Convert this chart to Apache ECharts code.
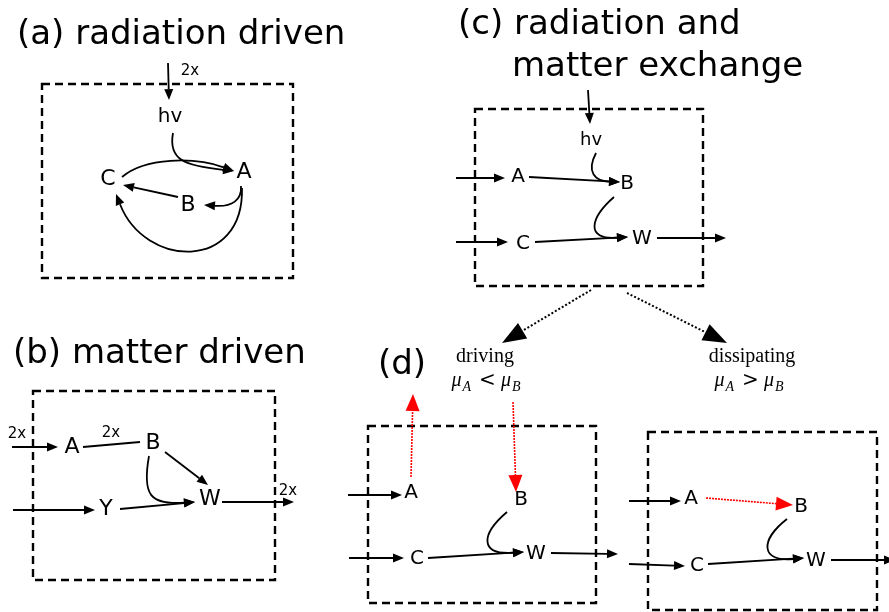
<!DOCTYPE html>
<html>
<head>
<meta charset="utf-8">
<script src="https://cdn.jsdelivr.net/npm/echarts@6/dist/echarts.min.js"></script>
<style>
html, body { margin: 0; padding: 0; background: #fff; }
#chart { width: 889px; height: 612px; }
</style>
</head>
<body>
<div id="chart"></div>
<script>
// canvas is mapped 1:1 onto a hidden value grid (x right, y down)
const W = 889, H = 612;

// dashed frames: x1, y1, x2, y2
const frames = [
  [42, 84, 293, 278],     // (a)
  [33, 391, 275, 580],    // (b)
  [475, 109, 703, 286],   // (c)
  [368, 426, 596, 603],   // (d) driving
  [648, 432, 877, 610]    // (d) dissipating
];

// straight black arrows: from x, y -> tip x, y
const arrows = [
  [168, 63, 169, 100], [178, 197, 123, 185],                                              // (a)
  [12, 447, 58, 447], [165, 452, 208, 485], [13, 510, 95, 510], [120, 509, 195, 502], [222, 502, 294, 502], // (b)
  [588, 90, 590, 124], [456, 178, 505, 178], [529, 177, 620, 182], [456, 242, 508, 242], [535, 242, 628, 237], [657, 238, 726, 238], // (c)
  [348, 495, 402, 495], [349, 558, 404, 558], [428, 558, 524, 552], [551, 553, 618, 554],   // (d) left
  [629, 501, 681, 501], [629, 564, 685, 566], [708, 564, 804, 558], [831, 560, 895, 560]    // (d) right
];

// plain segment without head (b) A - B
const plainLines = [
  [83, 447, 140, 442]
];

// curved black arrows: cubic bezier p0, c1, c2, tip
const curves = [
  [173, 133, 168, 160, 185, 166, 234, 171],   // (a) hv -> A
  [122, 177, 145, 157, 195, 157, 234, 171],   // (a) C -> A
  [241, 186, 242, 200, 232, 207, 204, 205],   // (a) A -> B
  [242, 188, 244, 272, 145, 268, 116, 194],   // (a) A -> C
  [149, 456, 142, 495, 150, 505, 195, 502],   // (b) B -> W
  [596, 153, 586, 172, 595, 181, 620, 182],   // (c) hv -> B
  [614, 197, 590, 218, 585, 240, 628, 237],   // (c) B -> W
  [507, 512, 480, 535, 480, 555, 524, 552],   // (d) B -> W
  [787, 519, 760, 540, 760, 562, 804, 558]    // (d) B -> W
];

// red dotted exchange arrows
const redArrows = [
  [411, 477, 413, 394],
  [513, 402, 516, 492],
  [706, 498, 793, 505]
];

// black dotted branch arrows out of (c)
const branchArrows = [
  [591, 290, 502, 343],
  [627, 293, 727, 343]
];

// text: x, y, string
const titles = [
  [17, 35, '(a) radiation driven'],
  [13, 354, '(b) matter driven'],
  [458, 25, '(c) radiation and'],
  [512, 67, 'matter exchange'],
  [378, 365, '(d)']
];
const nodesBig = [
  [244, 172, 'A'], [108, 179, 'C'], [188, 205, 'B'],
  [72, 447, 'A'], [153, 443, 'B'], [210, 499, 'W'], [106, 509, 'Y']
];
const nodesSmall = [
  [518, 177, 'A'], [627, 184, 'B'], [523, 244, 'C'], [642, 239, 'W'],
  [411, 493, 'A'], [521, 500, 'B'], [417, 559, 'C'], [536, 554, 'W'],
  [691, 499, 'A'], [801, 507, 'B'], [697, 566, 'C'], [816, 561, 'W']
];
const factors = [
  [190, 71, '2x'], [17, 434, '2x'], [111, 433, '2x'], [288, 491, '2x']
];
const photons = [
  [170, 117, 'hv', 20], [591, 140, 'hv', 18]
];
const modes = [
  [485, 357, 'driving'], [752, 357, 'dissipating']
];
const conditions = [
  [486, 381, '<'], [749, 381, '>']
];

function head(tip, from, len, half) {
  const dx = tip[0] - from[0], dy = tip[1] - from[1];
  const d = Math.sqrt(dx * dx + dy * dy) || 1;
  const ux = dx / d, uy = dy / d;
  const bx = tip[0] - ux * len, by = tip[1] - uy * len;
  return {
    base: [bx, by],
    pts: [tip, [bx - uy * half, by + ux * half], [bx + uy * half, by - ux * half]]
  };
}

function arrowSeries(rows, st) {
  return {
    type: 'custom',
    coordinateSystem: 'cartesian2d',
    silent: true,
    clip: false,
    encode: { x: 0, y: 1 },
    data: rows.map(r => [r[0], r[1]]),
    renderItem(params, api) {
      const row = rows[params.dataIndex];
      const p = [];
      for (let i = 0; i < row.length; i += 2) p.push(api.coord([row[i], row[i + 1]]));
      const tip = p[p.length - 1];
      const children = [];
      let end = tip;
      if (st.head) {
        const h = head(tip, p[p.length - 2], st.head[0], st.head[1]);
        end = h.base;
        children.push({ type: 'polygon', shape: { points: h.pts }, style: { fill: st.color } });
      }
      const ls = { stroke: st.color, lineWidth: st.width, lineDash: st.dash || null, fill: null };
      if (p.length === 4) {
        children.unshift({
          type: 'bezierCurve',
          shape: { x1: p[0][0], y1: p[0][1], cpx1: p[1][0], cpy1: p[1][1], cpx2: p[2][0], cpy2: p[2][1], x2: end[0], y2: end[1] },
          style: ls
        });
      } else {
        children.unshift({ type: 'line', shape: { x1: p[0][0], y1: p[0][1], x2: end[0], y2: end[1] }, style: ls });
      }
      return { type: 'group', children: children };
    }
  };
}

function textSeries(rows, font) {
  return {
    type: 'custom',
    coordinateSystem: 'cartesian2d',
    silent: true,
    clip: false,
    encode: { x: 0, y: 1 },
    data: rows.map(r => [r[0], r[1]]),
    renderItem(params, api) {
      const r = rows[params.dataIndex];
      const c = api.coord([r[0], r[1]]);
      const style = {
        text: font.fmt ? font.fmt(r[2]) : r[2],
        fontSize: r[3] || font.size,
        fontFamily: font.family,
        fill: '#000',
        align: font.align || 'center',
        verticalAlign: 'middle'
      };
      if (font.rich) style.rich = font.rich;
      return { type: 'text', x: c[0], y: c[1], style: style };
    }
  };
}

const frameSeries = {
  type: 'custom',
  coordinateSystem: 'cartesian2d',
  silent: true,
  clip: false,
  encode: { x: 0, y: 1 },
  data: frames.map(r => [r[0], r[1]]),
  renderItem(params, api) {
    const f = frames[params.dataIndex];
    const a = api.coord([f[0], f[1]]), b = api.coord([f[2], f[3]]);
    return {
      type: 'rect',
      shape: { x: a[0], y: a[1], width: b[0] - a[0], height: b[1] - a[1] },
      style: { stroke: '#000', lineWidth: 2.4, lineDash: [8, 5], fill: null }
    };
  }
};

const sans = 'DejaVu Sans';
const serif = 'Liberation Serif';
const mathRich = {
  m: { fontSize: 20, fontFamily: serif, fontStyle: 'italic', lineHeight: 20, verticalAlign: 'top' },
  s: { fontSize: 14, fontFamily: serif, fontStyle: 'italic', lineHeight: 14, padding: [9, 0, 0, 1], verticalAlign: 'top' },
  r: { fontSize: 20, fontFamily: 'DejaVu Serif', lineHeight: 20, padding: [0, 5, 0, 8], verticalAlign: 'top' }
};

const chart = echarts.init(document.getElementById('chart'), null, { renderer: 'canvas' });
chart.setOption({
  animation: false,
  backgroundColor: '#fff',
  grid: { left: 0, right: 0, top: 0, bottom: 0 },
  xAxis: { type: 'value', min: 0, max: W, show: false },
  yAxis: { type: 'value', min: 0, max: H, inverse: true, show: false },
  series: [
    frameSeries,
    arrowSeries(plainLines, { color: '#000', width: 1.8 }),
    arrowSeries(arrows, { color: '#000', width: 1.8, head: [11, 4.5] }),
    arrowSeries(curves, { color: '#000', width: 1.8, head: [11, 4.5] }),
    arrowSeries(redArrows, { color: '#ff0000', width: 1.6, dash: [2, 1], head: [17, 7] }),
    arrowSeries(branchArrows, { color: '#000', width: 2, dash: [2, 2], head: [24, 9] }),
    textSeries(titles, { size: 34, family: sans, align: 'left' }),
    textSeries(nodesBig, { size: 22, family: sans }),
    textSeries(nodesSmall, { size: 20, family: sans }),
    textSeries(factors, { size: 15, family: sans }),
    textSeries(photons, { size: 18, family: sans }),
    textSeries(modes, { size: 20, family: serif }),
    textSeries(conditions, {
      size: 20, family: serif, rich: mathRich,
      fmt: op => '{m|μ}{s|A}{r|' + op + '}{m|μ}{s|B}'
    })
  ]
});
</script>
</body>
</html>
